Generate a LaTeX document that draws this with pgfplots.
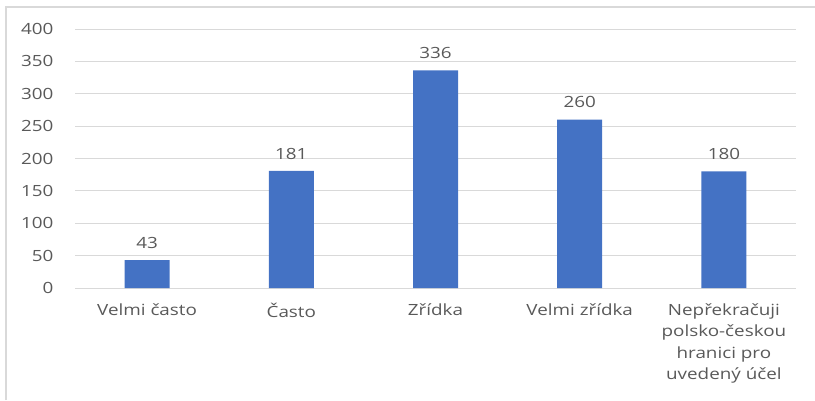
\documentclass[border=0pt]{standalone}
\usepackage{pgfplots}
\pgfplotsset{compat=1.18}
\usepackage{fontspec}
\setmainfont{Open Sans}[FakeStretch=1.22]
\definecolor{barblue}{HTML}{4472C4}
\definecolor{gridgray}{HTML}{D9D9D9}
\definecolor{txtgray}{HTML}{595959}
\begin{document}
\begin{tikzpicture}[x=1bp,y=1bp]
\useasboundingbox (0,0) rectangle (815,400);
\draw[gridgray, line width=1.2bp] (6,0) -- (6,393) -- (815,393);
\begin{axis}[
    at={(75bp,112bp)}, anchor=south west,
    scale only axis,
    width=721bp, height=259bp,
    xmin=-0.5, xmax=4.5,
    ymin=0, ymax=400,
    ytick={0,50,...,400},
    xtick=data,
    xticklabels={Velmi často, Často, Zřídka, Velmi zřídka, {Nepřekračuji\\polsko-českou\\hranici pro\\uvedený účel}},
    xticklabel style={align=center, font=\fontsize{15.5}{21.5}\selectfont, text=txtgray, yshift=-12bp},
    yticklabel style={font=\fontsize{15.5}{15}\selectfont, text=txtgray, xshift=-18bp},
    /pgf/number format/assume math mode=true,
    major tick length=0pt,
    axis line style={draw=none},
    ymajorgrids=true,
    grid style={gridgray, line width=1bp},
    ybar, bar width=45bp,
    nodes near coords,
    every node near coord/.append style={font=\fontsize{15.5}{15}\selectfont, text=txtgray, yshift=8bp},
    clip=false,
]
\addplot[fill=barblue, draw=none] coordinates {(0,43) (1,181) (2,336) (3,260) (4,180)};
\end{axis}
\end{tikzpicture}
\end{document}
